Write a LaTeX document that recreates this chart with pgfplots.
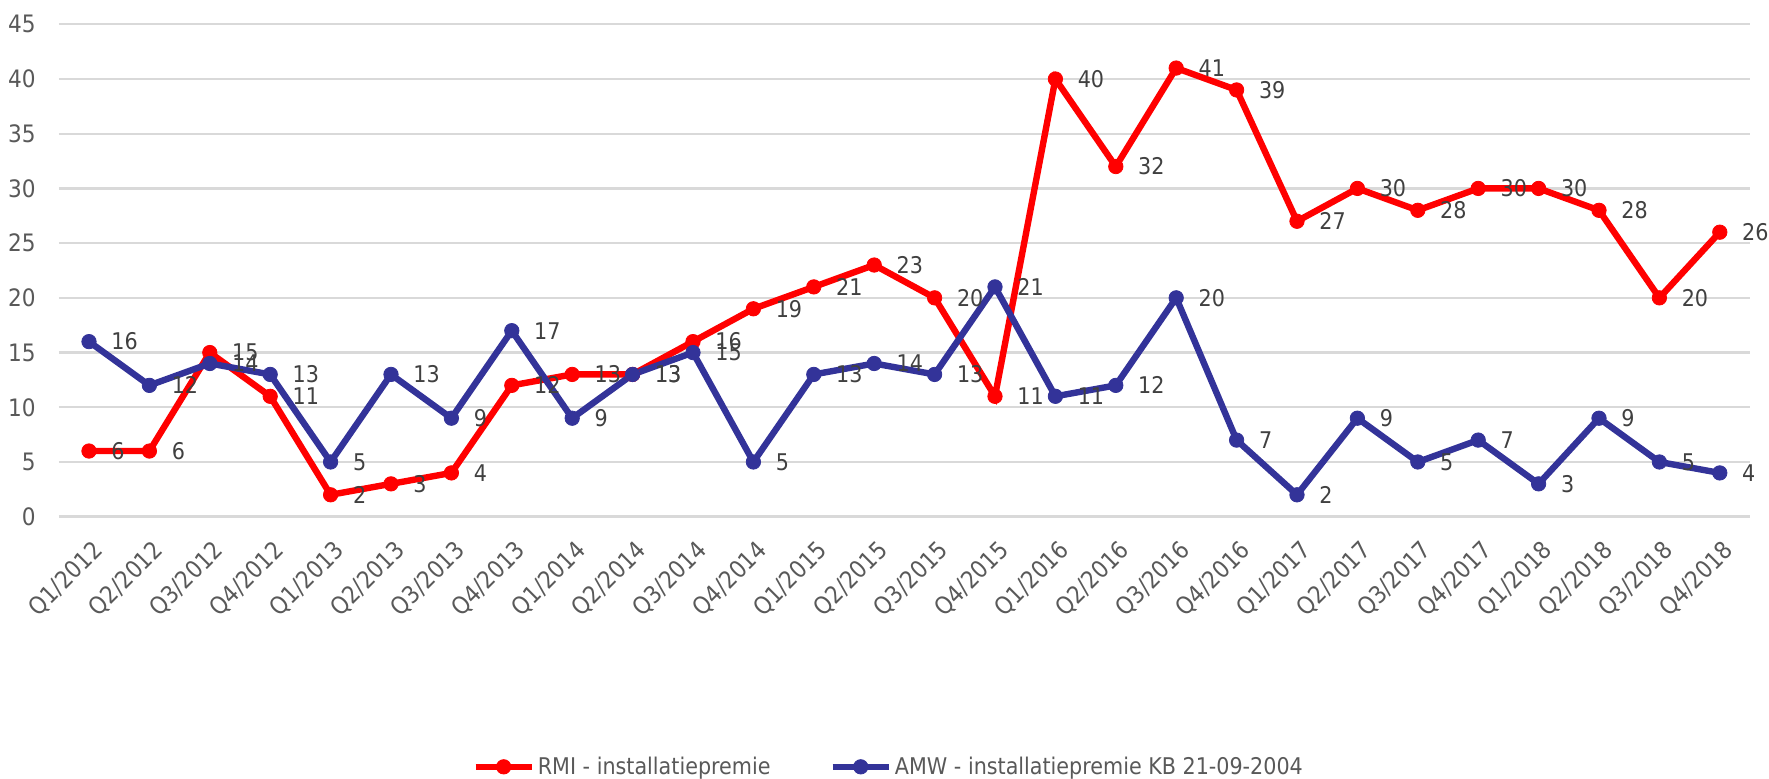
\documentclass[border=0pt]{standalone}
\usepackage{fontspec}
\setmainfont{DejaVu Sans Condensed}
\usepackage{pgfplots}
\pgfplotsset{compat=1.18}

\definecolor{rmired}{HTML}{FF0000}
\definecolor{amwblue}{HTML}{333399}
\definecolor{tickgray}{HTML}{595959}
\definecolor{labelgray}{HTML}{404040}
\definecolor{gridgray}{HTML}{D9D9D9}

\begin{document}
\begin{tikzpicture}
% 1 px of the reference = 0.5pt
\useasboundingbox (0,0) rectangle (884.5pt,389.5pt);
\begin{axis}[
    at={(29.4pt,131.15pt)}, anchor=south west,
    scale only axis,
    width=845.6pt, height=246.2pt,
    xmin=-0.5, xmax=27.5,
    ymin=0, ymax=45,
    ytick={0,5,...,45},
    xtick={0,...,27},
    xticklabels={Q1/2012,Q2/2012,Q3/2012,Q4/2012,Q1/2013,Q2/2013,Q3/2013,Q4/2013,
                 Q1/2014,Q2/2014,Q3/2014,Q4/2014,Q1/2015,Q2/2015,Q3/2015,Q4/2015,
                 Q1/2016,Q2/2016,Q3/2016,Q4/2016,Q1/2017,Q2/2017,Q3/2017,Q4/2017,
                 Q1/2018,Q2/2018,Q3/2018,Q4/2018},
    axis line style={draw=none},
    major tick length=0pt,
    ymajorgrids=true,
    grid style={line width=1.2pt, gridgray},
    yticklabel style={anchor=east, inner sep=0pt, xshift=-11.4pt,
        font=\fontsize{12pt}{14pt}\selectfont, text=tickgray},
    xticklabel style={xshift=5pt, yshift=-14.8pt, rotate=45, anchor=east, inner sep=0pt,
        font=\fontsize{12pt}{14pt}\selectfont, text=tickgray},
    /pgf/number format/assume math mode=true,
    clip=false,
    nodes near coords,
    every node near coord/.append style={anchor=west, xshift=11pt, inner sep=0pt,
        font=\fontsize{11.5pt}{13pt}\selectfont, text=labelgray},
    legend columns=2,
    legend style={at={(0.491,-0.508)}, anchor=center, draw=none, fill=none,
        font=\fontsize{11.5pt}{13pt}\selectfont, text=tickgray,
        /tikz/every even column/.append style={column sep=28pt},
        nodes={inner sep=1.5pt}},
    legend image code/.code={
        \draw[#1, mark repeat=2, mark phase=2] plot coordinates {(0pt,0pt) (14pt,0pt) (28pt,0pt)};
    },
]

\addplot[color=rmired, line width=3.2pt, mark=*, mark size=3.6pt,
    mark options={solid, line width=0.4pt}]
    coordinates {
    (0,6) (1,6) (2,15) (3,11) (4,2) (5,3) (6,4) (7,12)
    (8,13) (9,13) (10,16) (11,19) (12,21) (13,23) (14,20) (15,11)
    (16,40) (17,32) (18,41) (19,39) (20,27) (21,30) (22,28) (23,30)
    (24,30) (25,28) (26,20) (27,26)
    };
\addlegendentry{RMI - installatiepremie}

\addplot[color=amwblue, line width=3.2pt, mark=*, mark size=3.6pt,
    mark options={solid, line width=0.4pt}]
    coordinates {
    (0,16) (1,12) (2,14) (3,13) (4,5) (5,13) (6,9) (7,17)
    (8,9) (9,13) (10,15) (11,5) (12,13) (13,14) (14,13) (15,21)
    (16,11) (17,12) (18,20) (19,7) (20,2) (21,9) (22,5) (23,7)
    (24,3) (25,9) (26,5) (27,4)
    };
\addlegendentry{AMW - installatiepremie KB 21-09-2004}

\end{axis}
\end{tikzpicture}
\end{document}
